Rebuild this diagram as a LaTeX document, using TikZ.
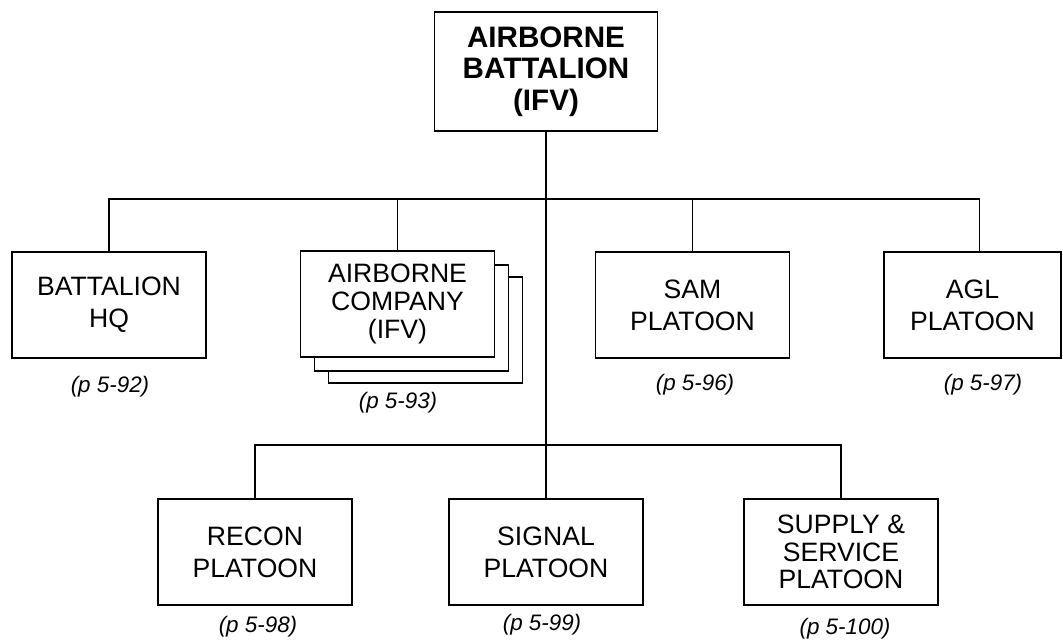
\documentclass[tikz,border=0pt]{standalone}
\usepackage{fontspec}
\setmainfont{Liberation Sans}
\usetikzlibrary{positioning, calc}

\begin{document}
\begin{tikzpicture}[x=0.5pt, y=-0.5pt, line width=0.65pt,
  unit/.style={rectangle, draw, fill=white, minimum width=97pt, minimum height=53pt, align=center, inner sep=2pt, font=\fontsize{13.3}{16}\selectfont},
  tightunit/.style={unit, font=\fontsize{13.3}{13.8}\selectfont},
  bnunit/.style={unit, minimum width=111.5pt, minimum height=59.5pt, font=\fontsize{14.8}{15.8}\selectfont\bfseries},
  pageref/.style={font=\fontsize{11.2}{13}\selectfont\itshape}
]
\useasboundingbox (0,0) rectangle (1063,639);

% Battalion at the top, companies and platoons in two rows below.
\node[bnunit] (bn) at (546,71.5) {AIRBORNE\\BATTALION\\(IFV)};

\node[unit] (hq) at (109,305) {BATTALION\\HQ};
% stacked company boxes: the back ones first
\node[unit] (coy3) at (425.5,330) {};
\node[unit] (coy2) at (411.5,318) {};
\node[tightunit] (coy) at (397.5,304) {AIRBORNE\\COMPANY\\(IFV)};
\node[unit] (sam) at (692.5,305) {SAM\\PLATOON};
\node[unit, minimum width=88.5pt] (agl) at (972.5,305) {AGL\\PLATOON};

\node[unit] (recon) at (255,552) {RECON\\PLATOON};
\node[unit] (signal) at (546,552) {SIGNAL\\PLATOON};
\node[tightunit] (supply) at (841,552) {SUPPLY \&\\SERVICE\\PLATOON};

% page references
\node[pageref] (hqref) at (110,387) {(p 5-92)};
\node[pageref] (coyref) at (398,403) {(p 5-93)};
\node[pageref] (samref) at (695,385) {(p 5-96)};
\node[pageref] (aglref) at (983,385) {(p 5-97)};
\node[pageref] (reconref) at (258,627) {(p 5-98)};
\node[pageref] (signalref) at (542,625) {(p 5-99)};
\node[pageref] (supplyref) at (845,629) {(p 5-100)};

% Two buses on the main stem from the battalion down to the signal platoon.
\coordinate (upbus) at (546,199);
\coordinate (lowbus) at (546,445);
\draw (bn.south) -- (signal.north);
\draw (hq.north) |- (upbus) -| ($(agl.north)+(7,0)$);
\draw (coy.north) -- (coy.north |- upbus);
\draw (sam.north) -- (sam.north |- upbus);
\draw (recon.north) |- (lowbus) -| (supply.north);

\end{tikzpicture}
\end{document}
